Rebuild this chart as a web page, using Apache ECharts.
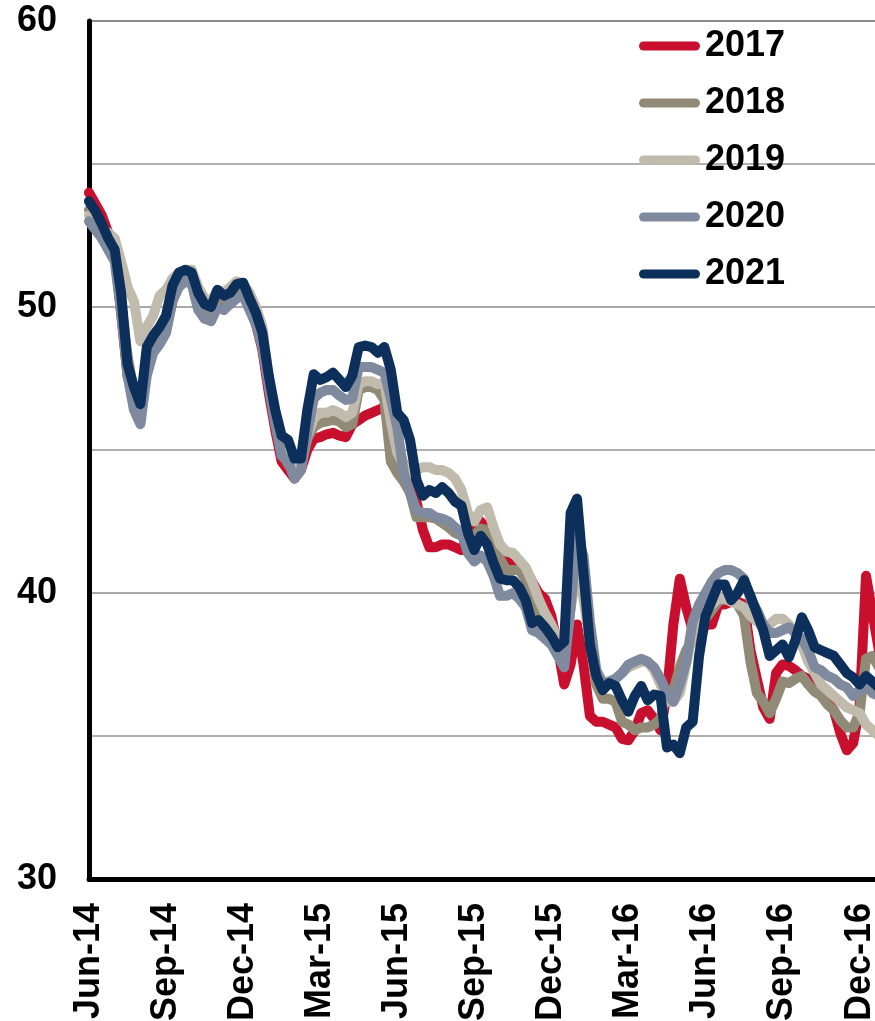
<!DOCTYPE html>
<html>
<head>
<meta charset="utf-8">
<script src="https://cdn.jsdelivr.net/npm/echarts@6/dist/echarts.min.js"></script>
<style>
  html, body { margin: 0; padding: 0; background: #fff; }
  #chart { width: 875px; height: 1021px; }
</style>
</head>
<body>
<div id="chart"></div>
<script>
// x runs in months from Jun-14, one point every quarter month (about a week)
var tickLabels = ["Jun-14", "Sep-14", "Dec-14", "Mar-15", "Jun-15", "Sep-15", "Dec-15", "Mar-16", "Jun-16", "Sep-16", "Dec-16"];
var years = ["2017", "2018", "2019", "2020", "2021"];
var colors = ["#c8102e", "#918a76", "#c0bbad", "#808a9e", "#0d2f5b"];

var s2017 = [
  54.0, 53.6, 53.2, 52.6, 51.9, 49.8, 47.6, 46.8, 46.3, 47.8,
  48.6, 49.0, 49.3, 50.2, 50.9, 50.9, 50.9, 50.0, 49.6, 49.7,
  50.1, 49.9, 50.2, 50.5, 50.4, 50.0, 49.4, 48.5, 47.0, 45.7,
  44.6, 44.3, 44.0, 44.3, 45.0, 45.4, 45.45, 45.55, 45.6, 45.5,
  45.45, 45.9, 46.05, 46.2, 46.3, 46.4, 46.5, 46.5, 45.1, 44.5,
  44.0, 43.2, 42.2, 41.6, 41.6, 41.7, 41.7, 41.6, 41.5, 42.0,
  42.3, 42.5, 42.2, 41.6, 41.3, 41.1, 41.0, 40.9, 40.8, 40.4,
  40.0, 39.8, 39.2, 38.1, 36.8, 37.5, 38.9, 37.5, 35.7, 35.5,
  35.5, 35.4, 35.3, 34.9, 34.85, 35.2, 35.8, 35.9, 35.6, 35.2,
  36.5, 38.9, 40.5, 39.5, 38.7, 38.4, 38.9, 38.9, 39.6, 39.6,
  39.7, 39.7, 39.6, 38.0, 37.0, 36.0, 35.6, 37.2, 37.5, 37.45,
  37.3, 37.1, 37.0, 36.75, 36.6, 36.2, 35.9, 35.1, 34.5, 34.75,
  36.0, 40.6, 39.3, 38.0, 37.5
];
var s2018 = [
  53.4, 53.0, 52.6, 52.3, 51.9, 50.2, 48.3, 47.0, 46.3, 47.9,
  48.8, 49.1, 49.4, 50.4, 50.9, 51.0, 51.0, 50.2, 49.9, 49.8,
  50.3, 50.1, 50.4, 50.6, 50.6, 50.1, 49.6, 48.8, 47.3, 46.0,
  44.9, 44.5, 44.2, 44.4, 45.4, 45.8, 45.95, 46.0, 46.05, 46.0,
  45.8, 45.9, 47.1, 47.2, 47.2, 47.1, 46.75, 44.6, 44.2, 43.9,
  43.5, 42.65, 42.65, 42.65, 42.6, 42.45, 42.3, 42.1, 42.0, 41.95,
  42.0, 42.25, 42.2, 41.8, 41.2, 40.8, 40.8, 40.8, 40.45, 39.7,
  39.3, 39.0, 38.6, 38.4, 37.6, 39.5, 41.1, 40.2, 38.3, 36.8,
  36.3, 36.3, 36.2, 35.5, 35.4, 35.2, 35.3, 35.3, 35.4, 35.6,
  36.6, 36.6, 37.4, 38.0, 38.3, 38.9, 39.1, 39.4, 39.7, 39.8,
  39.8, 39.6, 39.2, 37.6, 36.5, 36.2, 35.8, 36.3, 36.9, 36.85,
  37.0, 37.1, 36.8, 36.55, 36.4, 36.1, 35.9, 35.55, 35.3, 35.3,
  35.8, 37.7, 37.8, 37.4, 37.5
];
var s2019 = [
  53.2, 53.0, 52.7, 52.6, 52.4, 51.6, 50.7, 50.2, 48.8, 49.3,
  49.7, 50.4, 50.6, 51.0, 51.2, 51.3, 51.3, 50.7, 50.3, 50.2,
  50.6, 50.5, 50.7, 50.9, 50.8, 50.5, 50.0, 49.3, 47.4, 46.3,
  45.0, 44.6, 44.2, 44.5, 45.5, 46.1, 46.3, 46.3, 46.4, 46.3,
  46.15, 46.3, 47.3, 47.4, 47.4, 47.3, 47.35, 46.0, 44.9, 44.5,
  44.2, 44.3, 44.4, 44.4, 44.3, 44.3, 44.2, 44.0, 43.6, 42.8,
  42.5, 42.9, 43.0, 42.3, 41.7, 41.45, 41.4, 41.15, 40.9, 40.4,
  39.8, 39.3, 38.9, 38.4, 38.0, 39.5, 40.8, 39.8, 38.3, 37.3,
  36.9, 36.9, 37.0, 37.2, 37.4, 37.5, 37.6, 37.6, 37.3, 36.8,
  36.2, 36.2, 36.5, 37.5, 38.6, 39.0, 39.4, 39.6, 39.8, 39.8,
  39.7, 39.6, 39.5, 39.2, 39.0, 38.8, 38.9, 39.1, 39.1, 38.9,
  38.6, 38.2, 37.6, 37.2, 36.8, 36.6, 36.4, 36.2, 36.0, 35.9,
  35.8, 35.4, 35.2, 35.0, 35.0
];
var s2020 = [
  53.0, 52.7, 52.4, 52.0, 51.6, 49.8, 47.6, 46.4, 45.9, 47.6,
  48.4, 48.7, 49.1, 50.2, 50.7, 50.9, 50.8, 49.9, 49.6, 49.5,
  50.0, 49.9, 50.1, 50.3, 50.4, 49.9, 49.4, 48.6, 47.2, 45.9,
  44.8, 44.6, 44.0, 44.3, 45.6, 46.8, 47.0, 47.1, 47.1, 46.9,
  46.75, 46.8, 47.9, 47.9, 47.9, 47.8, 47.7, 46.8, 45.8, 44.2,
  43.5, 42.9, 42.8, 42.8, 42.65, 42.6, 42.5, 42.3, 42.1, 41.4,
  41.1, 41.3, 41.1, 40.6, 39.9, 39.9, 40.0, 39.8, 39.5, 38.7,
  38.6, 38.4, 38.2, 37.8, 37.4, 39.5, 42.0, 41.3, 39.0, 37.3,
  36.8, 36.9, 37.0, 37.2, 37.5, 37.6, 37.7, 37.6, 37.4, 37.0,
  36.5, 36.2, 36.8, 37.6, 39.0, 39.6, 40.0, 40.4, 40.7, 40.8,
  40.8, 40.7, 40.5, 39.8, 39.4, 38.9, 38.6, 38.6, 38.7, 38.8,
  38.6, 38.4, 38.0, 37.4, 37.3, 37.1, 37.0, 36.8, 36.7, 36.4,
  36.6, 36.8, 36.5, 36.4, 36.3
];
var s2021 = [
  53.7, 53.35, 52.9, 52.4, 52.0, 50.5, 48.0, 47.2, 46.6, 48.6,
  49.0, 49.3, 49.7, 50.75, 51.2, 51.3, 51.2, 50.5, 50.1, 50.0,
  50.6, 50.4, 50.5, 50.8, 50.85, 50.3, 49.8, 49.1, 47.6, 46.4,
  45.5, 45.35, 44.7, 44.7, 46.4, 47.65, 47.45, 47.55, 47.7, 47.45,
  47.2, 47.6, 48.6, 48.65, 48.6, 48.4, 48.6, 47.8, 46.3, 46.05,
  45.35, 43.95, 43.4, 43.6, 43.5, 43.7, 43.5, 43.2, 43.05, 42.1,
  41.5, 42.0, 41.7, 41.05, 40.5, 40.45, 40.45, 40.2, 39.75, 38.95,
  39.05, 38.8, 38.5, 38.1, 38.3, 42.8, 43.3, 40.7, 38.2, 37.1,
  36.6, 36.85, 36.75, 36.25, 35.85, 36.4, 36.75, 36.25, 36.45, 36.4,
  34.6, 34.7, 34.4, 35.3, 35.5, 37.8, 39.2, 39.75, 40.3, 40.3,
  39.75, 40.0, 40.45, 39.9, 39.3, 38.7, 37.8, 38.0, 38.2, 37.75,
  38.35, 39.15, 38.7, 38.1, 38.0, 37.9, 37.8, 37.5, 37.2, 37.05,
  36.8, 37.1, 36.9, 36.7, 36.6
];

var allSeries = [s2017, s2018, s2019, s2020, s2021];
var step = 0.25; // months between points

var myChart = echarts.init(document.getElementById("chart"));
var font = "'Liberation Sans', Arial, sans-serif";

var option = {
  animation: false,
  grid: {
    left: 89, right: 0, top: 21, bottom: 142,
    containLabel: false,
    outerBoundsMode: "none"
  },
  legend: {
    orient: "vertical",
    left: 634,
    top: 23,
    itemWidth: 61,
    itemHeight: 9,
    itemGap: 21,
    icon: "path://M4.5,0 L56.5,0 A4.5,4.5 0 0 1 56.5,9 L4.5,9 A4.5,4.5 0 0 1 4.5,0 Z",
    textStyle: { fontSize: 36, fontWeight: "bold", color: "#000", fontFamily: font },
    data: years
  },
  xAxis: {
    type: "value",
    min: 0,
    max: 30.6,
    interval: 3,
    axisLine: { show: true, lineStyle: { color: "#000", width: 5 } },
    axisTick: { show: false },
    splitLine: { show: false },
    axisLabel: {
      rotate: 90,
      margin: 24,
      showMaxLabel: false,
      fontSize: 36,
      fontWeight: "bold",
      color: "#000",
      fontFamily: font,
      formatter: function (v) {
        var k = Math.round(v / 3);
        return Math.abs(v - k * 3) < 1e-6 && tickLabels[k] ? tickLabels[k] : "";
      }
    }
  },
  yAxis: {
    type: "value",
    min: 30,
    max: 60,
    interval: 5,
    axisLine: { show: true, lineStyle: { color: "#000", width: 5 } },
    axisTick: { show: false },
    splitLine: {
      lineStyle: {
        color: ["#b0b0b0", "#b0b0b0", "#a8a8a8", "#b0b0b0", "#a8a8a8", "#b0b0b0", "#8c8c8c"],
        width: 2
      }
    },
    axisLabel: {
      margin: 32,
      fontSize: 36,
      fontWeight: "bold",
      color: "#000",
      fontFamily: font,
      formatter: function (v) { return v % 10 === 0 ? String(v) : ""; }
    }
  },
  series: allSeries.map(function (vals, k) {
    return {
      name: years[k],
      type: "line",
      showSymbol: false,
      symbol: "none",
      clip: true,
      color: colors[k],
      lineStyle: { width: 10, color: colors[k], join: "round", cap: "round" },
      emphasis: { disabled: true },
      data: vals.map(function (v, i) { return [i * step, v]; })
    };
  })
};
myChart.setOption(option);
</script>
</body>
</html>
